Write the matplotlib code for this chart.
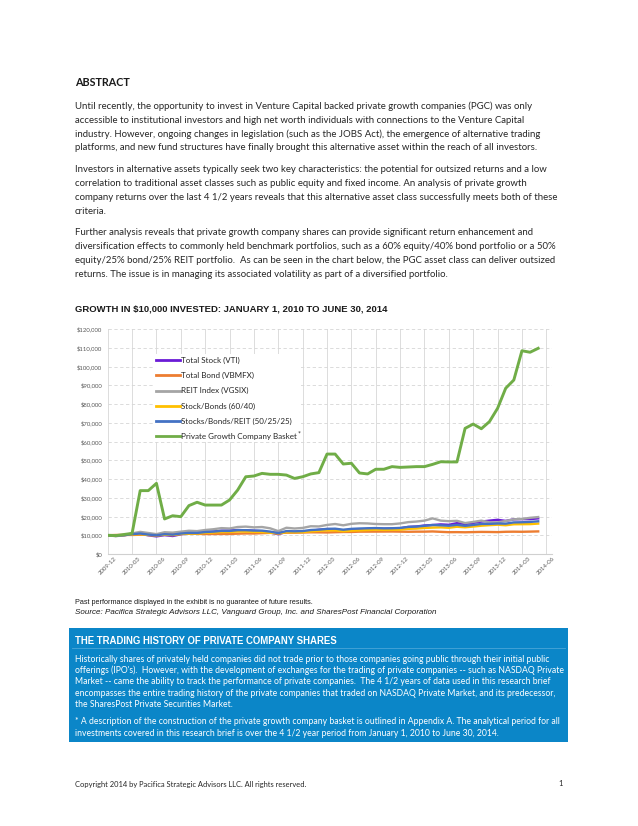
import matplotlib
matplotlib.use("Agg")
import matplotlib.pyplot as plt

# ---------------- data ----------------
x_tick_labels = ["2009-12", "2010-03", "2010-06", "2010-09", "2010-12", "2011-03",
                 "2011-06", "2011-09", "2011-12", "2012-03", "2012-06", "2012-09",
                 "2012-12", "2013-03", "2013-06", "2013-09", "2013-12", "2014-03",
                 "2014-06"]
y_tick_values = [0, 10000, 20000, 30000, 40000, 50000, 60000, 70000, 80000, 90000,
                 100000, 110000, 120000]
y_tick_labels = ["\\$0", "\\$10,000", "\\$20,000", "\\$30,000", "\\$40,000", "\\$50,000",
                 "\\$60,000", "\\$70,000", "\\$80,000", "\\$90,000", "\\$100,000",
                 "\\$110,000", "\\$120,000"]

# monthly values, 2009-12 ... 2014-05
total_stock = [10000, 9640, 9970, 10600, 10810, 9950, 9400, 10050, 9590, 10490,
               10900, 10970, 11700, 11930, 12400, 12440, 12800, 12640, 12420, 12140,
               11420, 10540, 11770, 11740, 11800, 12400, 12900, 13300, 13200, 12400,
               12900, 13050, 13350, 13680, 13440, 13530, 13700, 14450, 14650, 15200,
               15450, 15800, 15570, 16450, 16000, 16600, 17300, 17800, 18250, 17650,
               18500, 18600, 18600, 19000]
total_bond = [10000, 10150, 10180, 10160, 10270, 10350, 10500, 10610, 10760, 10800,
              10840, 10770, 10650, 10660, 10690, 10700, 10840, 10970, 10930, 11110,
              11270, 11350, 11370, 11380, 11460, 11570, 11550, 11490, 11620, 11740,
              11750, 11910, 11920, 11940, 11960, 11990, 11930, 11850, 11910, 11920,
              12030, 11820, 11630, 11660, 11590, 11690, 11780, 11740, 11670, 11850,
              11900, 11850, 11940, 12050]
reit_index = [10000, 9500, 10000, 11000, 11800, 11200, 10600, 11600, 11400, 11900,
              12400, 12200, 12800, 13200, 13800, 13600, 14400, 14600, 14200, 14400,
              13700, 12200, 14000, 13600, 13900, 14800, 14700, 15500, 16000, 15300,
              16100, 16400, 16300, 16000, 15900, 15900, 16300, 17000, 17300, 17800,
              19000, 17800, 17500, 17700, 16500, 17100, 17800, 16900, 16900, 17600,
              18500, 18700, 19300, 19700]
stock_bond_60_40 = [10000, 9844, 10054, 10424, 10594, 10110, 9840, 10274, 10058, 10614,
                    10876, 10890, 11280, 11422, 11716, 11744, 12016, 11972, 11824, 11728,
                    11360, 10864, 11610, 11596, 11664, 12068, 12360, 12576, 12568, 12136,
                    12440, 12594, 12778, 12984, 12848, 12914, 12992, 13410, 13554, 13888,
                    14082, 14208, 13994, 14534, 14236, 14636, 15092, 15376, 15618, 15330,
                    15860, 15900, 15936, 16220]
stock_bond_reit = [10000, 9732, 10030, 10590, 10922, 10362, 9975, 10577, 10335, 10920,
                   11260, 11227, 11712, 11930, 12322, 12295, 12710, 12712, 12492, 12447,
                   11952, 11157, 12227, 12115, 12240, 12792, 13012, 13397, 13505, 12960,
                   13412, 13602, 13730, 13825, 13685, 13737, 13907, 14437, 14627, 15030,
                   15482, 15305, 15067, 15565, 15022, 15497, 16045, 16060, 16267, 16187,
                   16850, 16937, 17110, 17437]
pgc_basket = [10000, 9800, 10400, 11000, 33800, 33800, 37700, 18700, 20400, 19900,
              25800, 27600, 26100, 26100, 26100, 28800, 34100, 41200, 41600, 43000,
              42500, 42500, 42100, 40300, 41200, 42700, 43400, 53300, 53300, 48000,
              48400, 43200, 42700, 45200, 45200, 46600, 46200, 46400, 46600, 46600,
              47800, 49200, 49100, 49100, 67000, 69300, 66800, 70600, 77700, 88400,
              92800, 108400, 107600, 109700]

series_names = ["Total Stock (VTI)", "Total Bond (VBMFX)", "REIT Index (VGSIX)",
                "Stock/Bonds (60/40)", "Stocks/Bonds/REIT (50/25/25)",
                "Private Growth Company Basket"]
series_values = [total_stock, total_bond, reit_index, stock_bond_60_40,
                 stock_bond_reit, pgc_basket]
series_colors = ["#6a1bd6", "#ed7d31", "#a5a5a5", "#ffc000", "#4472c4", "#70ad47"]

# ---------------- page ----------------
W, H = 638, 826
fig = plt.figure(figsize=(W / 100, H / 100), dpi=100)
BODY = ["Lato", "DejaVu Sans"]
ARIAL = ["Liberation Sans", "DejaVu Sans"]


def px(x, y):
    return x / W, 1 - y / H


texts_to_fit = []


def put(x, y, s, size, family=BODY, target=None, **kw):
    t = fig.text(*px(x, y), s, fontsize=size, family=family, va="center",
                 ha=kw.pop("ha", "left"), **kw)
    if target is not None:
        texts_to_fit.append((t, target))
    return t


put(75, 83, "ABSTRACT", 10, weight="bold", color="#1a1a1a", target=55)

para_lines = [
    (106.7, "Until recently, the opportunity to invest in Venture Capital backed private growth companies (PGC) was only"),
    (120.5, "accessible to institutional investors and high net worth individuals with connections to the Venture Capital"),
    (134.2, "industry. However, ongoing changes in legislation (such as the JOBS Act), the emergence of alternative trading"),
    (148.0, "platforms, and new fund structures have finally brought this alternative asset within the reach of all investors."),
    (169.0, "Investors in alternative assets typically seek two key characteristics: the potential for outsized returns and a low"),
    (183.0, "correlation to traditional asset classes such as public equity and fixed income. An analysis of private growth"),
    (197.0, "company returns over the last 4 1/2 years reveals that this alternative asset class successfully meets both of these"),
    (211.0, "criteria."),
    (232.5, "Further analysis reveals that private growth company shares can provide significant return enhancement and"),
    (246.5, "diversification effects to commonly held benchmark portfolios, such as a 60% equity/40% bond portfolio or a 50%"),
    (260.5, "equity/25% bond/25% REIT portfolio.  As can be seen in the chart below, the PGC asset class can deliver outsized"),
    (274.5, "returns. The issue is in managing its associated volatility as part of a diversified portfolio."),
]
para_texts = [put(75, y, s, 7, color="#262626") for y, s in para_lines]

put(75, 309, "GROWTH IN \\$10,000 INVESTED: JANUARY 1, 2010 TO JUNE 30, 2014", 7,
    family=ARIAL, weight="bold", color="#1a1a1a", target=310)
put(75, 602, "Past performance displayed in the exhibit is no guarantee of future results.",
    5.5, family=ARIAL, color="#1a1a1a", target=240)
put(75, 612.5, "Source: Pacifica Strategic Advisors LLC, Vanguard Group, Inc. and SharesPost Financial Corporation",
    5.5, family=ARIAL, style="italic", color="#1a1a1a", target=363)

# blue box
box_color = "#0b86c8"
fig.patches.append(plt.Rectangle(px(69, 742), 499 / W, 114 / H, transform=fig.transFigure,
                                 facecolor=box_color, edgecolor="none", zorder=0))
fig.lines.append(plt.Line2D([72 / W, 565 / W], [1 - 648 / H] * 2, transform=fig.transFigure,
                            color="#4aa6d8", lw=0.6))
put(75, 640.5, "THE TRADING HISTORY OF PRIVATE COMPANY SHARES", 7, family=ARIAL,
    weight="bold", color="white", target=262)
box_lines = [
    (659.3, "Historically shares of privately held companies did not trade prior to those companies going public through their initial public"),
    (670.7, "offerings (IPO's).  However, with the development of exchanges for the trading of private companies -- such as NASDAQ Private"),
    (682.0, "Market -- came the ability to track the performance of private companies.  The 4 1/2 years of data used in this research brief"),
    (693.3, "encompasses the entire trading history of the private companies that traded on NASDAQ Private Market, and its predecessor,"),
    (704.5, "the SharesPost Private Securities Market."),
    (722.0, "* A description of the construction of the private growth company basket is outlined in Appendix A. The analytical period for all"),
    (733.5, "investments covered in this research brief is over the 4 1/2 year period from January 1, 2010 to June 30, 2014."),
]
box_texts = [put(75, y, s, 6, color="white") for y, s in box_lines]

put(75, 784, "Copyright 2014 by Pacifica Strategic Advisors LLC. All rights reserved.", 5.5,
    color="#262626", target=232)
put(561, 784, "1", 5.5, color="#262626", ha="center")

# ---------------- chart ----------------
ax_l, ax_r, ax_t, ax_b = 107.7, 552, 329, 554
ax = fig.add_axes([ax_l / W, 1 - ax_b / H, (ax_r - ax_l) / W, (ax_b - ax_t) / H])
for name, vals, col in zip(series_names, series_values, series_colors):
    lw = 2.1 if col == "#70ad47" else 1.7
    ax.plot(range(len(vals)), vals, color=col, lw=lw, label=name,
            solid_joinstyle="round", zorder=3)

ax.set_xlim(0, 54.7)
ax.set_ylim(0, 120000)
ax.set_xticks(range(0, 3 * len(x_tick_labels), 3))
ax.set_xticklabels(x_tick_labels, rotation=45, ha="center", va="top",
                   fontsize=4.3, family=BODY, color="#595959")
ax.set_yticks(y_tick_values)
ax.set_yticklabels(y_tick_labels, fontsize=4.3, family=BODY, color="#595959")
ax.tick_params(axis="both", length=0)
ax.tick_params(axis="y", pad=4)
ax.tick_params(axis="x", pad=1.5)
for s in ["top", "right", "left"]:
    ax.spines[s].set_visible(False)
ax.spines["bottom"].set_color("#d0d0d0")
ax.spines["bottom"].set_linewidth(0.8)
ax.grid(axis="x", color="#dcdcdc", lw=0.7, ls="-", zorder=0)
ax.grid(axis="y", color="#d6d6d6", lw=0.6, ls=(0, (4, 3)), zorder=0)
ax.set_axisbelow(True)

leg = ax.legend(loc="upper left", bbox_to_anchor=(0.104, 0.887), frameon=True,
                fancybox=False, framealpha=1, edgecolor="none", facecolor="white",
                prop={"family": BODY, "size": 5.8}, handlelength=2.9,
                handletextpad=0.12, labelspacing=1.0, borderpad=0.3,
                borderaxespad=0)
for line in leg.get_lines():
    line.set_linewidth(2.0)
for t in leg.get_texts():
    t.set_color("#262626")

# ---------------- fit text widths ----------------
fig.canvas.draw()
r = fig.canvas.get_renderer()
for t, target in texts_to_fit:
    w = t.get_window_extent(r).width
    t.set_fontsize(t.get_fontsize() * target / w)

ref = para_texts[6]
scale = 481.0 / ref.get_window_extent(r).width
for t in para_texts:
    t.set_fontsize(t.get_fontsize() * scale)
ref = box_texts[5]
scale = 485.0 / ref.get_window_extent(r).width
for t in box_texts:
    t.set_fontsize(t.get_fontsize() * scale)

# superscript asterisk after the last legend entry
bb = leg.get_texts()[-1].get_window_extent(r)
fig.text((bb.x1 + 1) / W, (bb.y1 - 1) / H, "*", fontsize=5, family=BODY,
         color="#262626", ha="left", va="center")

fig.savefig("out.png", dpi=100, facecolor="white")
